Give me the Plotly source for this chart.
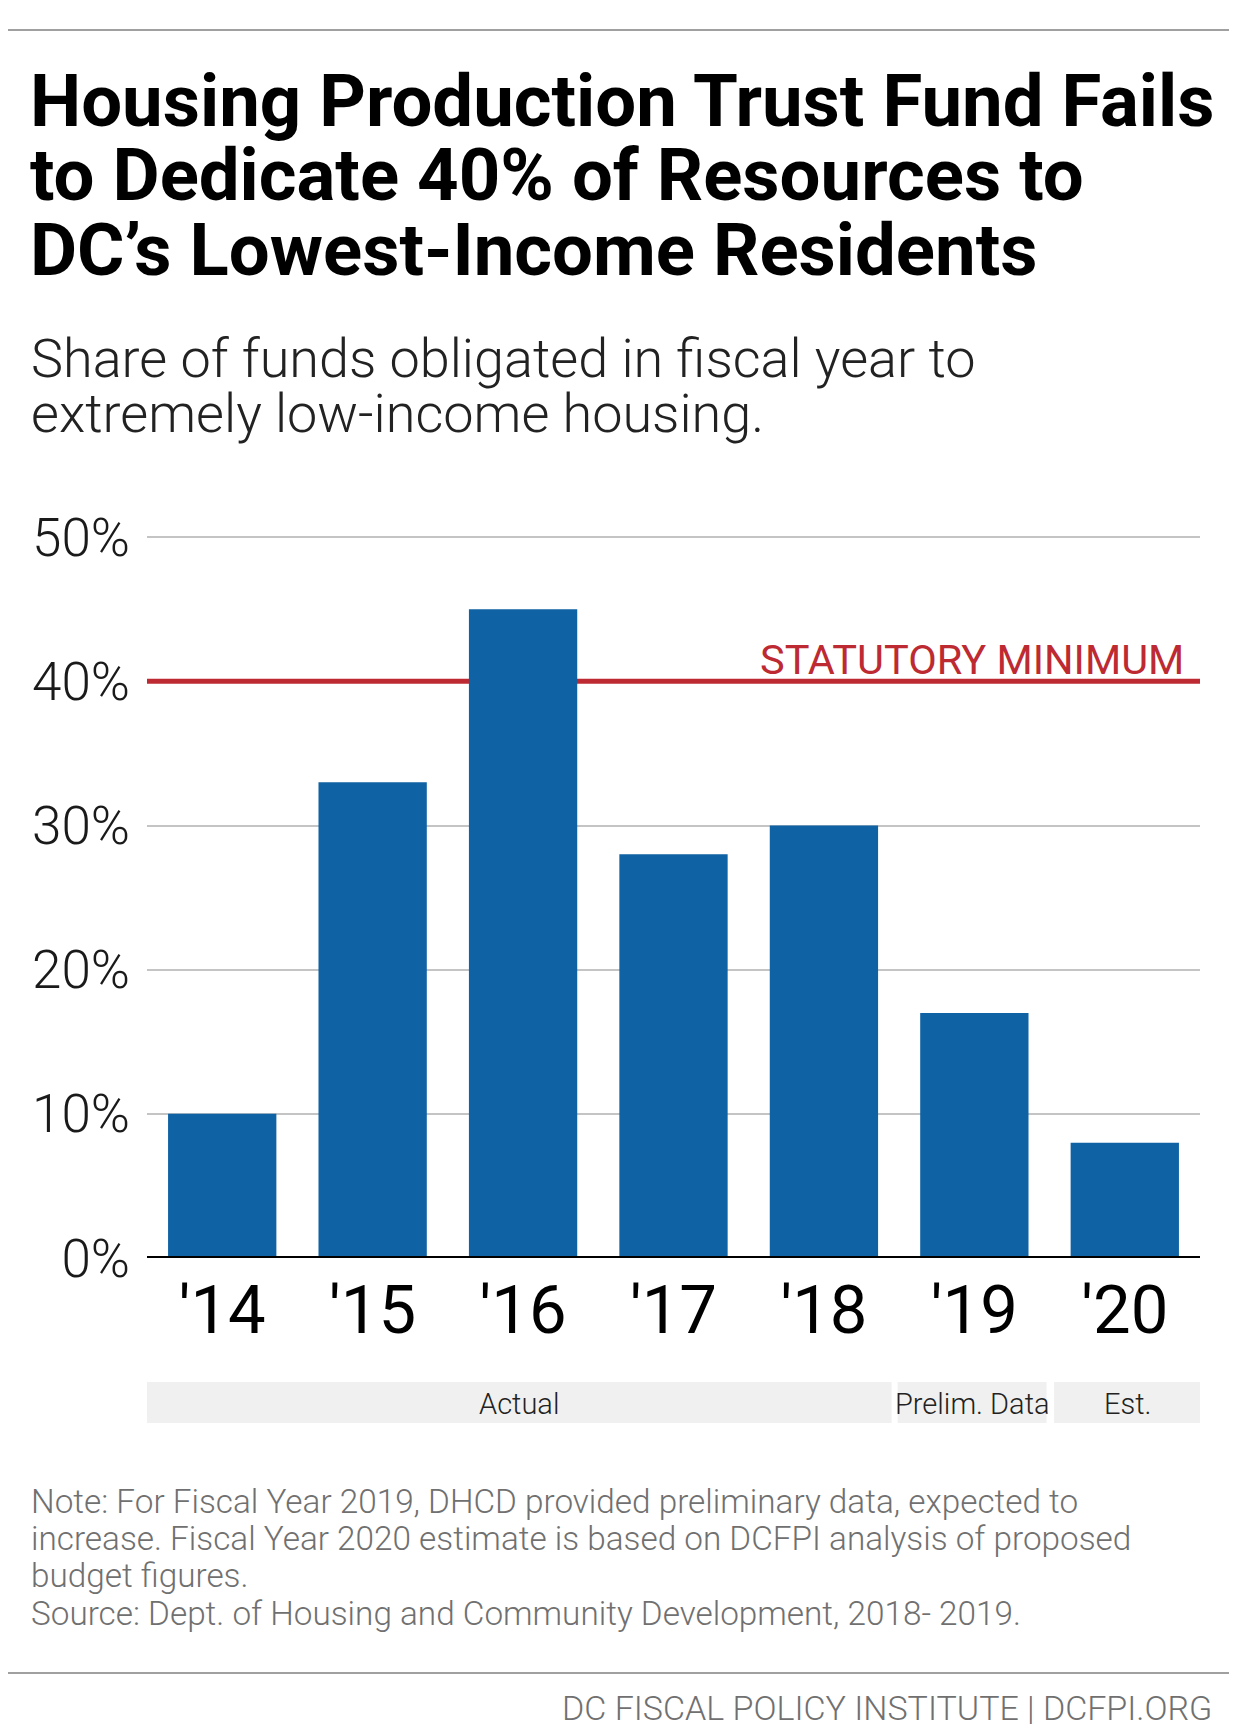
import plotly.graph_objects as go

# ---------------- data ----------------
years = ["'14", "'15", "'16", "'17", "'18", "'19", "'20"]
share = [10, 33, 45, 28, 30, 17, 8]
y_tick_values = [0, 10, 20, 30, 40, 50]
y_tick_labels = ["0%", "10%", "20%", "30%", "40%", "50%"]
statutory_minimum = 40
band_labels = ["Actual", "Prelim. Data", "Est."]
band_spans = [(-0.5, 4.45), (4.49, 5.48), (5.53, 6.5)]  # in category units

title_lines = [
    "Housing Production Trust Fund Fails",
    "to Dedicate 40% of Resources to",
    "DC\u2019s Lowest-Income Residents",
]
subtitle_lines = [
    "Share of funds obligated in fiscal year to",
    "extremely low-income housing.",
]
note_lines = [
    "Note: For Fiscal Year 2019, DHCD provided preliminary data, expected to",
    "increase. Fiscal Year 2020 estimate is based on DCFPI analysis of proposed",
    "budget figures.",
    "Source: Dept. of Housing and Community Development, 2018- 2019.",
]
footer = "DC FISCAL POLICY INSTITUTE | DCFPI.ORG"

# ---------------- layout geometry (page pixels) ----------------
PAGE_W, PAGE_H = 1237, 1732
OFF = 8                       # default body margin of the html page
W, H = PAGE_W - OFF, PAGE_H - OFF
ZERO_PX = 1258                # page y of 0%
UNIT_PX = 14.42               # px per percentage point
YMAX = 50.5
PLOT_LEFT, PLOT_RIGHT = 147, 1200   # page x
L = PLOT_LEFT - OFF
R = W - (PLOT_RIGHT - OFF)
T = round(ZERO_PX - YMAX * UNIT_PX) - OFF
B = H - (ZERO_PX - OFF)
PW = W - L - R
PH = H - T - B

FONT = "Roboto"
BLUE = "#0F62A4"
RED = "#BE2A32"
GRAY_TEXT = "#707070"


def px_x(px):  # page x -> paper
    return (px - OFF - L) / PW


def px_y(py):  # page y -> paper
    return (H - B - (py - OFF)) / PH


def cat_to_paper(c):
    return (c + 0.5) / len(years)


fig = go.Figure()
fig.add_trace(go.Bar(
    x=years, y=share, marker=dict(color=BLUE, line=dict(width=0)),
    hoverinfo="skip", showlegend=False,
))

shapes = []
# statutory minimum line (between grid and bars)
shapes.append(dict(type="line", xref="x", yref="y", x0=-0.5, x1=len(years) - 0.5,
                   y0=statutory_minimum, y1=statutory_minimum,
                   line=dict(color=RED, width=5), layer="between"))
# zero axis line
shapes.append(dict(type="line", xref="paper", yref="y", x0=0, x1=1, y0=0, y1=0,
                   line=dict(color="black", width=4), layer="above"))
# top / bottom rules
for py in (30, 1673):
    shapes.append(dict(type="line", xref="paper", yref="paper",
                       x0=px_x(0), x1=px_x(PAGE_W), y0=px_y(py), y1=px_y(py),
                       line=dict(color="#A0A0A0", width=2)))
# category bands
band_top, band_bot = 1382, 1423
for (c0, c1) in band_spans:
    shapes.append(dict(type="rect", xref="paper", yref="paper",
                       x0=cat_to_paper(c0), x1=cat_to_paper(c1),
                       y0=px_y(band_bot), y1=px_y(band_top),
                       fillcolor="#F0F0F0", line=dict(width=0), layer="below"))

ann = []


def text(x_px, y_px, s, size, color="black", weight=400, xanchor="left"):
    ann.append(dict(xref="paper", yref="paper", x=px_x(x_px), y=px_y(y_px),
                    text=s, showarrow=False, xanchor=xanchor, yanchor="middle",
                    font=dict(family=FONT, size=size, color=color, weight=weight)))


# title (cap centers)
for i, line in enumerate(title_lines):
    base = 127 + i * 74.5
    text(28, base - 0.355 * 72.5, line, 72.5, "black", 700)
# subtitle
for i, line in enumerate(subtitle_lines):
    base = 378 + i * 55
    text(29, base - 0.355 * 54, line, 54, "#222222", 300)
# statutory label
text(1186, 674 - 0.355 * 41.5, "STATUTORY MINIMUM", 41.5, RED, 400, xanchor="right")
# band labels
for lab, (c0, c1) in zip(band_labels, band_spans):
    cx = PLOT_LEFT + cat_to_paper((c0 + c1) / 2) * PW
    text(cx, 1414 - 0.355 * 29, lab, 29, "#222222", 300, xanchor="center")
# notes
for i, line in enumerate(note_lines):
    base = 1513 + i * 37.3
    text(29, base - 0.355 * 33.3, line, 33.3, GRAY_TEXT, 300)
# footer
text(1214, 1720 - 0.355 * 34, footer, 34, GRAY_TEXT, 300, xanchor="right")

fig.update_layout(
    width=W, height=H,
    margin=dict(l=L, r=R, t=T, b=B, pad=0),
    paper_bgcolor="white", plot_bgcolor="white",
    bargap=0.28,
    shapes=shapes, annotations=ann,
    showlegend=False,
    font=dict(family=FONT),
    xaxis=dict(
        type="category", range=[-0.5, len(years) - 0.5],
        showgrid=False, showline=False, zeroline=False,
        ticks="", ticklabelstandoff=7,
        tickfont=dict(family=FONT, size=67, color="black", weight=400),
        fixedrange=True,
    ),
    yaxis=dict(
        range=[0, YMAX], tickvals=y_tick_values, ticktext=y_tick_labels,
        showgrid=True, gridcolor="#C4C4C4", gridwidth=2,
        zeroline=False, showline=False, ticks="", ticklabelstandoff=16,
        tickfont=dict(family=FONT, size=53, color="#1a1a1a", weight=300),
        fixedrange=True,
    ),
)

fig.write_html("out.html")
